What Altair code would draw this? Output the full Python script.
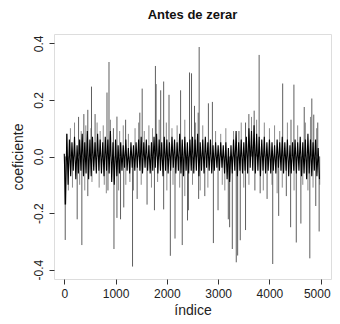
import altair as alt
import pandas as pd

# Dense band envelope: upper values at index 0,50,...,4950; lower values at 25,75,...,4975
band_upper = [
    0.01, 0.08, 0.06, 0.05, 0.07, 0.04, 0.06, 0.08, 0.05, 0.09,
    0.06, 0.07, 0.05, 0.08, 0.06, 0.05, 0.07, 0.06, 0.09, 0.05,
    0.06, 0.04, 0.05, 0.04, 0.06, 0.03, 0.05, 0.04, 0.05, 0.06,
    0.07, 0.05, 0.06, 0.04, 0.05, 0.07, 0.08, 0.06, 0.05, 0.07,
    0.06, 0.05, 0.07, 0.06, 0.05, 0.08, 0.06, 0.07, 0.05, 0.06,
    0.07, 0.06, 0.08, 0.05, 0.06, 0.07, 0.05, 0.06, 0.04, 0.05,
    0.04, 0.05, 0.04, 0.05, 0.03, 0.04, 0.06, 0.09, 0.05, 0.06,
    0.05, 0.07, 0.10, 0.09, 0.11, 0.08, 0.07, 0.06, 0.07, 0.05,
    0.06, 0.05, 0.04, 0.06, 0.05, 0.07, 0.05, 0.06, 0.04, 0.05,
    0.06, 0.05, 0.07, 0.05, 0.06, 0.08, 0.06, 0.05, 0.06, 0.03,
]
band_lower = [
    -0.17, -0.10, -0.07, -0.05, -0.08, -0.06, -0.05, -0.07, -0.06, -0.08,
    -0.07, -0.05, -0.06, -0.05, -0.06, -0.07, -0.05, -0.06, -0.09, -0.10,
    -0.07, -0.06, -0.05, -0.04, -0.05, -0.06, -0.04, -0.05, -0.04, -0.05,
    -0.06, -0.04, -0.05, -0.06, -0.05, -0.04, -0.06, -0.05, -0.07, -0.05,
    -0.06, -0.05, -0.04, -0.06, -0.05, -0.06, -0.07, -0.05, -0.06, -0.05,
    -0.06, -0.05, -0.07, -0.05, -0.06, -0.04, -0.05, -0.06, -0.05, -0.04,
    -0.05, -0.04, -0.06, -0.08, -0.09, -0.06, -0.05, -0.07, -0.05, -0.06,
    -0.05, -0.06, -0.04, -0.05, -0.06, -0.05, -0.07, -0.05, -0.06, -0.05,
    -0.06, -0.05, -0.06, -0.04, -0.05, -0.06, -0.05, -0.07, -0.06, -0.05,
    -0.06, -0.05, -0.07, -0.06, -0.08, -0.06, -0.07, -0.05, -0.07, -0.08,
]

# Spikes (index, value)
spike_idx = [
    531, 872, 833, 382, 279, 459, 601, 1027, 1196, 1519, 1777, 1790, 1880, 1938,
    2042, 2268, 2442, 2481, 2539, 2630, 2611, 2810, 2888, 3702, 3799, 4258, 4477,
    4826, 4678, 4864, 4942, 3599, 3534, 1473, 4420, 958, 3405, 50,
    19, 252, 343, 969, 1027, 1097, 1331, 1421, 1614, 1758, 1938, 2068, 2159, 2300,
    2403, 2420, 2907, 2998, 3198, 3224, 3276, 3353, 3380, 3431, 3534, 3716, 4064,
    4180, 4329, 4413, 4523, 4613, 4787, 4903, 4969, 3819, 3954, 852, 12, 459,
    2620, 1160, 2740,
]
spike_val = [
    0.247, 0.334, 0.226, 0.15, 0.14, 0.165, 0.15, 0.141, 0.13, 0.24, 0.32, 0.256,
    0.234, 0.265, 0.218, 0.234, 0.297, 0.294, 0.179, 0.387, 0.155, 0.188, 0.193,
    0.162, 0.359, 0.258, 0.254, 0.205, 0.175, 0.148, 0.12, 0.15, 0.12, 0.155,
    0.13, 0.10, 0.09, 0.08,
    -0.295, -0.222, -0.313, -0.327, -0.217, -0.222, -0.389, -0.15, -0.17, -0.19,
    -0.187, -0.351, -0.29, -0.313, -0.226, -0.19, -0.306, -0.19, -0.222, -0.25,
    -0.327, -0.374, -0.35, -0.296, -0.26, -0.12, -0.38, -0.21, -0.14, -0.25,
    -0.304, -0.237, -0.36, -0.175, -0.265, -0.13, -0.15, -0.12, -0.17, -0.14,
    -0.15, -0.18, -0.14,
]

# Medium fuzz spikes around the band
fuzz_idx = [
    120, 200, 330, 420, 520, 640, 700, 760, 900, 1080, 1150, 1250, 1380, 1450,
    1560, 1650, 1720, 1850, 1990, 2100, 2200, 2350, 2560, 2700, 2950, 3050, 3150,
    3300, 3450, 3650, 3750, 3900, 4000, 4100, 4200, 4350, 4550, 4700, 4800, 4920,
    80, 160, 300, 400, 540, 680, 780, 820, 1060, 1200, 1280, 1350, 1500, 1700,
    1820, 2000, 2120, 2250, 2350, 2500, 2650, 2800, 3080, 3130, 3500, 3600, 3880,
    4050, 4150, 4250, 4480, 4650, 4750, 4850, 4980,
]
fuzz_val = [
    0.10, 0.12, 0.09, 0.11, 0.10, 0.12, 0.09, 0.11, 0.13, 0.09, 0.11, 0.08, 0.10,
    0.12, 0.09, 0.11, 0.10, 0.13, 0.12, 0.10, 0.11, 0.13, 0.12, 0.11, 0.09, 0.08,
    0.10, 0.09, 0.12, 0.14, 0.13, 0.12, 0.10, 0.11, 0.09, 0.12, 0.11, 0.12, 0.14,
    0.10,
    -0.12, -0.11, -0.10, -0.12, -0.09, -0.11, -0.10, -0.13, -0.12, -0.10, -0.09,
    -0.12, -0.10, -0.11, -0.09, -0.12, -0.10, -0.11, -0.14, -0.10, -0.12, -0.11,
    -0.10, -0.12, -0.11, -0.10, -0.12, -0.10, -0.13, -0.11, -0.12, -0.10, -0.12,
    -0.11, -0.10,
]

x_ticks = [0, 1000, 2000, 3000, 4000, 5000]
y_ticks = [-0.4, -0.2, 0.0, 0.2, 0.4]

rows = []
for i, u in enumerate(band_upper):
    rows.append({"idx": i * 50, "v": u})
    rows.append({"idx": i * 50 + 25, "v": band_lower[i]})
band = pd.DataFrame(rows)
spikes = pd.DataFrame({"idx": spike_idx, "v": spike_val})
fuzz = pd.DataFrame({"idx": fuzz_idx, "v": fuzz_val})

FONT = "Liberation Sans"
xs = alt.Scale(domain=[-200, 5200], nice=False, zero=False)
ys = alt.Scale(domain=[-0.433, 0.433], nice=False, zero=False)

xax = alt.Axis(values=x_ticks, title="índice", domain=False, grid=False,
               tickColor="#333", tickSize=5, labelPadding=4, labelFontSize=12,
               labelFont=FONT, labelColor="#222", titleFont=FONT, titleFontSize=14,
               titleFontWeight="normal", titleColor="#222",
               titleY=35, titleBaseline="alphabetic",
               labelOffset={"condition": {"test": "datum.value == 5000", "value": -4}, "value": 0},
               format="d")
yax = alt.Axis(values=y_ticks, title="coeficiente", domain=False, grid=False,
               tickColor="#333", tickSize=5, labelPadding=4, labelFontSize=12,
               labelFont=FONT, labelColor="#222", labelAngle=270,
               labelAlign="center", labelBaseline="bottom",
               labelExpr="replace(format(datum.value, '.1f'), '\u2212', '-')",
               titleFont=FONT, titleFontSize=14, titleFontWeight="normal",
               titleColor="#222", titlePadding=7)

fuzz_layer = alt.Chart(fuzz).mark_rule(color="#8a8a8a", strokeWidth=1, clip=True).encode(
    x=alt.X("idx:Q", scale=xs, axis=xax),
    y=alt.Y("v:Q", scale=ys, axis=yax),
    y2=alt.datum(0),
)
spike_layer = alt.Chart(spikes).mark_rule(color="#5e5e5e", strokeWidth=1, clip=True).encode(
    x=alt.X("idx:Q", scale=xs),
    y=alt.Y("v:Q", scale=ys),
    y2=alt.datum(0),
)
band_layer = alt.Chart(band).mark_line(color="black", strokeWidth=1.1, clip=True).encode(
    x=alt.X("idx:Q", scale=xs),
    y=alt.Y("v:Q", scale=ys),
    order="idx:Q",
)

chart = alt.layer(fuzz_layer, spike_layer, band_layer).properties(
    width=277, height=245,
    title=alt.TitleParams("Antes de zerar", font=FONT, fontSize=13, fontWeight="bold",
                          color="#111", offset=12),
    autosize=alt.AutoSizeParams(type="none"),
    padding={"left": 46, "top": 26, "right": 1, "bottom": 37},
).configure_view(stroke="#555", strokeWidth=1).configure(background="white")

chart.save("out.html", embed_options={"renderer": "svg", "actions": False})
